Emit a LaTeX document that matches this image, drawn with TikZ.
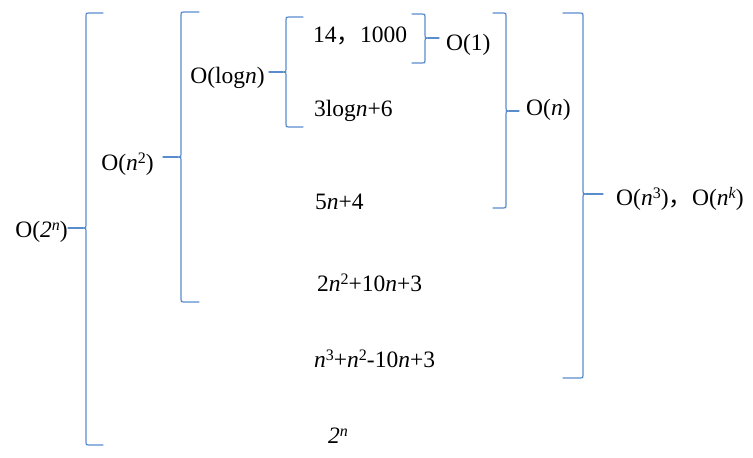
\documentclass[tikz,border=0pt]{standalone}
\usepackage{fontspec}
\setmainfont{Liberation Serif}
\newfontfamily\cjk{Noto Sans CJK SC}
\usepackage{tikz}
\usetikzlibrary{calc}
\definecolor{bracblue}{RGB}{88,140,205}

\newcommand{\nn}{\textit{n}}
\newcommand{\fwc}{{\cjk ，}}
\newcommand{\sps}[1]{\raisebox{7pt}{\fontsize{16}{16}\selectfont #1}}

% brace: x, top, mid, bottom, dir (1 opens right, -1 opens left), arm, tip node anchor
\newcommand{\brc}[7]{%
  \pgfmathsetmacro{\brr}{3*#5}
  \pgfmathsetmacro{\brarm}{#6*#5}
  \draw[brc] ({#1+(\brarm)},#2) -- ({#1+(\brr)},#2) .. controls (#1,#2) .. (#1,#2+3)
    -- (#1,#3-3) .. controls (#1,#3) .. ({#1-(\brr)},#3)
    .. controls (#1,#3) .. (#1,#3+3)
    -- (#1,#4-3) .. controls (#1,#4) .. ({#1+(\brr)},#4) -- ({#1+(\brarm)},#4);
  \draw[brc] ({#1-(\brr)},#3) -- (#7 |- 0,#3);
}

\begin{document}
\begin{tikzpicture}[x=1pt, y=-1pt,
  lbl/.style={inner sep=0pt, font=\fontsize{23.5}{28}\selectfont},
  brc/.style={draw=bracblue, line width=1.2pt, line cap=round, line join=round}]

  \useasboundingbox (0,0) rectangle (753,458);

  % Class labels
  \node[lbl, anchor=base east] (o2n) at (68,237) {O(\textit{2}\sps{\nn})};
  \node[lbl, anchor=base east, inner xsep=9pt] (on2) at (163,170) {O(\nn\sps{2})};
  \node[lbl, anchor=base east, inner xsep=4pt] (olog) at (269,83) {O(log\nn)};
  \node[lbl, anchor=base west, inner xsep=7pt] (o1) at (439,50) {O(1)};
  \node[lbl, anchor=base west, inner xsep=7pt] (on) at (519,115) {O(\nn)};
  \node[lbl, anchor=base west, inner xsep=13pt] (on3) at (603,205) {O(\nn\sps{3})\fwc O(\nn\sps{\textit{k}})};

  % Functions
  \node[lbl, anchor=base west] (f1) at (313,42) {14\fwc 1000};
  \node[lbl, anchor=base west] (f2) at (314,116) {3log\nn+6};
  \node[lbl, anchor=base west] (f3) at (315,209) {5\nn+4};
  \node[lbl, anchor=base west] (f4) at (317,291) {2\nn\sps{2}+10\nn+3};
  \node[lbl, anchor=base west] (f5) at (314,367) {\nn\sps{3}+\nn\sps{2}-10\nn+3};
  \node[lbl, anchor=base west] (f6) at (328,443) {\textit{2}\sps{\nn}};

  % Braces
  \brc{86}{13}{228}{445}{1}{17}{o2n.east}
  \brc{181}{12}{157}{302}{1}{18}{on2.east}
  \brc{286}{17}{72}{127}{1}{17}{olog.east}
  \brc{425}{14}{38}{63}{-1}{13}{o1.west}
  \brc{506}{13}{111}{208}{-1}{13}{on.west}
  \brc{583}{13}{194}{378}{-1}{20}{on3.west}

\end{tikzpicture}
\end{document}
